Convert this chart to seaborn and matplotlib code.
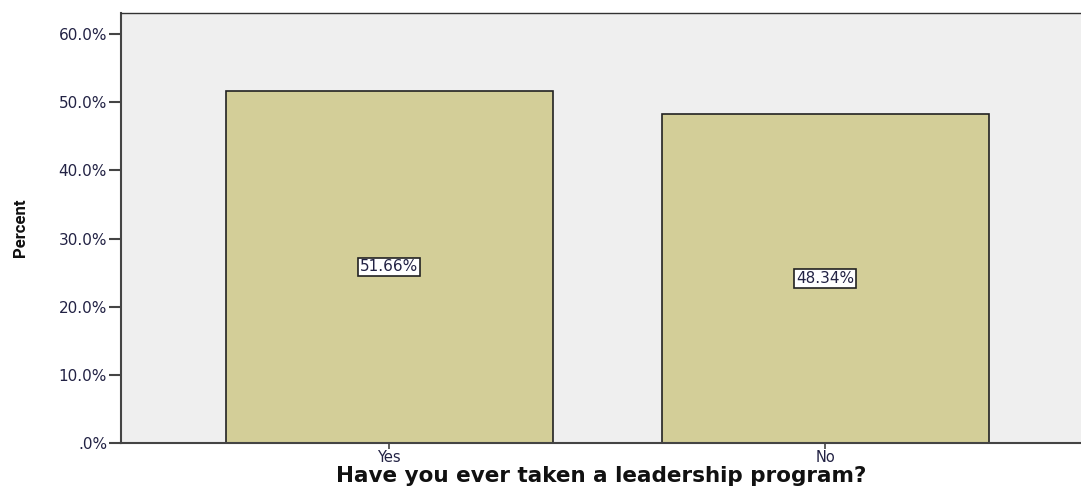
import matplotlib
matplotlib.use("Agg")
import matplotlib.pyplot as plt
import matplotlib.ticker as mticker
import seaborn as sns
import pandas as pd

# data
answers = ["Yes", "No"]
percents = [51.66, 48.34]
y_ticks = [0, 10, 20, 30, 40, 50, 60]

df = pd.DataFrame({"answer": answers, "percent": percents})

sns.set_theme(style="white")
plt.rcParams["font.family"] = ["DejaVu Sans"]

fig = plt.figure(figsize=(10.81, 4.87), dpi=100)
ax = fig.add_axes([0.1119, 0.0903, 0.8881, 0.883])
ax.set_facecolor("#EFEFEF")

sns.barplot(data=df, x="answer", y="percent", order=answers, color="#D3CE98",
            saturation=1, width=0.75, edgecolor="#222222", linewidth=1.2, ax=ax)

for i, p in enumerate(percents):
    ax.text(i, p / 2, f"{p:.2f}%", ha="center", va="center", fontsize=11,
            color="#222244",
            bbox=dict(boxstyle="square,pad=0.12", facecolor="white",
                      edgecolor="#222222", linewidth=1.2))

ax.set_ylim(0, 63.1)
ax.set_xlim(-0.615, 1.587)
ax.set_yticks(y_ticks)
ax.yaxis.set_major_formatter(mticker.FuncFormatter(
    lambda v, pos: ".0%" if v == 0 else f"{v:.1f}%"))

ax.tick_params(axis="y", which="major", length=9, width=1.5, color="#444444",
               labelsize=11, labelcolor="#222244", pad=1, left=True)
ax.tick_params(axis="x", which="major", length=4, width=1.2, color="#444444",
               labelsize=10.5, labelcolor="#222244", pad=1, bottom=True)

for side in ["left", "bottom"]:
    ax.spines[side].set_color("#444444")
    ax.spines[side].set_linewidth(1.5)
ax.spines["top"].set_color("#333333")
ax.spines["top"].set_linewidth(1)
ax.spines["right"].set_visible(False)

ax.set_xlabel("Have you ever taken a leadership program?", fontsize=15.5,
              fontweight="bold", color="#111111", labelpad=1)
ax.set_ylabel("Percent", fontsize=12, fontweight="bold", color="#111111",
              family=["Liberation Sans Narrow", "Roboto", "DejaVu Sans"],
              labelpad=22)

fig.savefig("out.png", dpi=100, facecolor="white")
